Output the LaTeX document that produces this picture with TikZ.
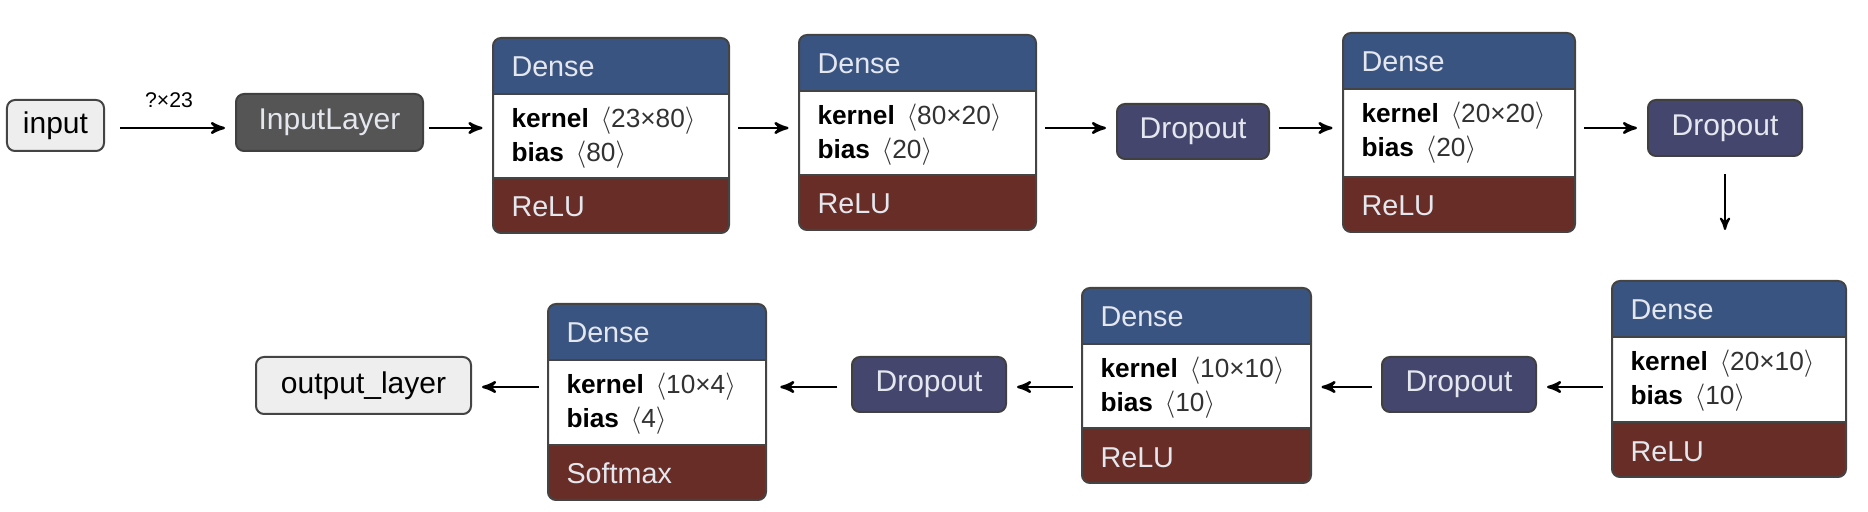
\documentclass[tikz,border=0pt]{standalone}
\usepackage{fontspec}
\setmainfont{Liberation Sans}
\usepackage{tikz}
\usetikzlibrary{arrows, calc, fit}

\definecolor{denseblue}{RGB}{58,84,130}
\definecolor{actred}{RGB}{104,45,38}
\definecolor{dropblue}{RGB}{69,70,110}
\definecolor{inlgray}{RGB}{85,85,85}
\definecolor{iofill}{RGB}{238,238,238}
\definecolor{edgegray}{RGB}{68,68,68}
\definecolor{lighttext}{RGB}{228,232,238}
\definecolor{dimtext}{RGB}{50,50,50}

\tikzset{
  iobox/.style={draw=edgegray, fill=iofill, line width=0.8pt, rounded corners=3.2pt, inner sep=0pt, font=\fontsize{12}{14}\selectfont},
  inlbox/.style={draw=black!75, fill=inlgray, line width=0.8pt, rounded corners=3.2pt, inner sep=0pt, text=lighttext, font=\fontsize{12}{14}\selectfont},
  dropbox/.style={draw=black!75, fill=dropblue, line width=0.8pt, rounded corners=3.2pt, inner sep=0pt, text=lighttext, font=\fontsize{12}{14}\selectfont, minimum width=61.6pt, minimum height=22pt},
  headtext/.style={anchor=base west, inner sep=0pt, text=lighttext, font=\fontsize{11.5}{13}\selectfont},
  bodytext/.style={anchor=base west, inner sep=0pt, font=\fontsize{10.5}{12}\selectfont},
  blockedge/.style={draw=edgegray, line width=0.8pt},
  dimlabel/.style={inner sep=0pt, font=\fontsize{8.5}{10}\selectfont},
  flow/.style={->, >=stealth', line width=1pt, shorten <=3.5pt, shorten >=4pt}
}

% name, x1, y1, x2, y2, kernel, bias, activation
\newcommand{\denselayer}[8]{%
  \begin{scope}
    \clip[rounded corners=3.2pt] (#2,#3) rectangle (#4,#5);
    \fill[denseblue] (#2,#3) rectangle (#4,#3+56);
    \fill[white] (#2,#3+56) rectangle (#4,#5-55);
    \fill[actred] (#2,#5-55) rectangle (#4,#5);
  \end{scope}
  \draw[blockedge] (#2,#3+56) -- (#4,#3+56);
  \draw[blockedge] (#2,#5-55) -- (#4,#5-55);
  \draw[blockedge, rounded corners=3.2pt] (#2,#3) rectangle (#4,#5);
  \node[fit={(#2,#3) (#4,#5)}, inner sep=0pt] (#1) {};
  \node[headtext] (#1h) at (#2+18,#3+39) {Dense};
  \node[bodytext] (#1k) at (#2+18,#3+90) {\textbf{kernel}\ \,\textcolor{dimtext}{$\langle$#6$\rangle$}};
  \node[bodytext] (#1b) at (#2+18,#3+124) {\textbf{bias}\ \,\textcolor{dimtext}{$\langle$#7$\rangle$}};
  \node[headtext] (#1a) at (#2+18,#5-16) {#8};
}

\begin{document}
\begin{tikzpicture}[x=0.4pt,y=0.4pt,yscale=-1,xscale=1]
\useasboundingbox (0,0) rectangle (1868,512);
\coordinate (row1) at (0,128);
\coordinate (row2) at (0,387);

%Rounded Rect
\node[iobox, minimum width=38.8pt, minimum height=20.4pt] (inp) at (55.5,125.5) {input};
%Text Node
\node[dimlabel] (shp) at (169,100) {?×23};
%Rounded Rect
\node[inlbox, minimum width=74.8pt, minimum height=22.8pt] (inl) at (329.5,122.5) {InputLayer};
%Dense
\denselayer{d1}{493}{38}{729}{233}{23×80}{80}{ReLU}
%Dense
\denselayer{d2}{799}{35}{1036}{230}{80×20}{20}{ReLU}
%Rounded Rect
\node[dropbox, minimum width=60.8pt] (drop1) at (1193,131.5) {Dropout};
%Dense
\denselayer{d3}{1343}{33}{1575}{232}{20×20}{20}{ReLU}
%Rounded Rect
\node[dropbox, minimum height=22.4pt] (drop2) at (1725,128) {Dropout};
\coordinate (down) at (1725,230);

%Dense
\denselayer{d6}{1612}{281}{1846}{477}{20×10}{10}{ReLU}
%Rounded Rect
\node[dropbox] (drop4) at (1459,384.5) {Dropout};
%Dense
\denselayer{d5}{1082}{288}{1311}{483}{10×10}{10}{ReLU}
%Rounded Rect
\node[dropbox] (drop3) at (929,384.5) {Dropout};
%Dense
\denselayer{d4}{548}{304}{766}{500}{10×4}{4}{Softmax}
%Rounded Rect
\node[iobox, minimum width=86pt, minimum height=22.8pt] (out) at (363.5,385.5) {output\_layer};

%Straight Lines
\draw[flow, shorten <=6pt] (inp.east |- row1) -- (inl.west |- row1);
\draw[flow, shorten <=2pt] (inl.east |- row1) -- (d1.west |- row1);
\draw[flow] (d1.east |- row1) -- (d2.west |- row1);
\draw[flow] (d2.east |- row1) -- (drop1.west |- row1);
\draw[flow] (drop1.east |- row1) -- (d3.west |- row1);
\draw[flow] (d3.east |- row1) -- (drop2.west |- row1);
\draw[flow, line width=0.8pt, shorten <=7pt, shorten >=0pt] (drop2.south) -- (down);
%Straight Lines
\draw[flow] (d6.west |- row2) -- (drop4.east |- row2);
\draw[flow] (drop4.west |- row2) -- (d5.east |- row2);
\draw[flow] (d5.west |- row2) -- (drop3.east |- row2);
\draw[flow, shorten <=5.5pt, shorten >=5.5pt] (drop3.west |- row2) -- (d4.east |- row2);
\draw[flow] (d4.west |- row2) -- (out.east |- row2);

\end{tikzpicture}
\end{document}
